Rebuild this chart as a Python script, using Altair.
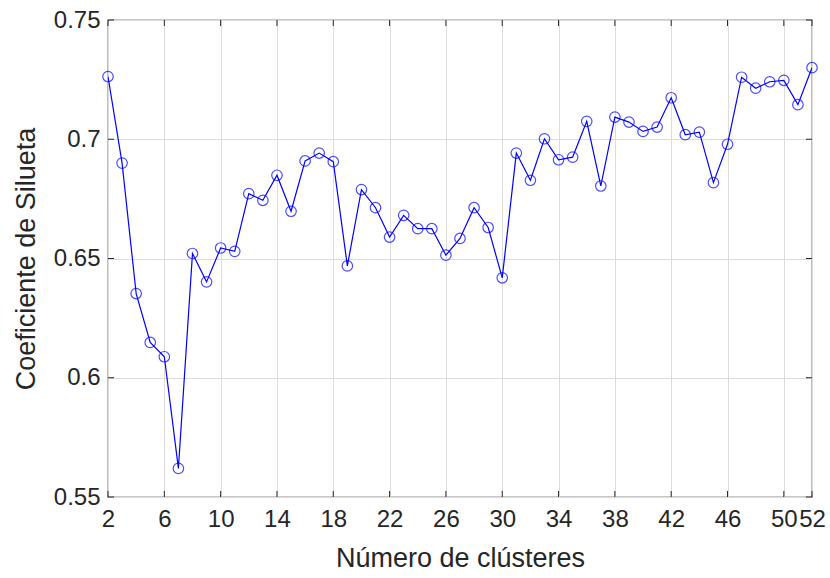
import altair as alt
import pandas as pd

clusters = list(range(2, 53))
silhouette = [
    0.7263, 0.6900, 0.6353, 0.6148, 0.6088, 0.5620, 0.6521, 0.6402, 0.6544, 0.6530,
    0.6772, 0.6744, 0.6849, 0.6698, 0.6909, 0.6942, 0.6906, 0.6469, 0.6789, 0.6713,
    0.6590, 0.6681, 0.6625, 0.6625, 0.6514, 0.6584, 0.6713, 0.6630, 0.6419, 0.6942,
    0.6828, 0.7002, 0.6914, 0.6925, 0.7075, 0.6804, 0.7093, 0.7072, 0.7033, 0.7051,
    0.7174, 0.7019, 0.7030, 0.6818, 0.6979, 0.7260, 0.7214, 0.7241, 0.7247, 0.7145,
    0.7300,
]
x_ticks = [2, 6, 10, 14, 18, 22, 26, 30, 34, 38, 42, 46, 50, 52]
y_ticks = [0.55, 0.6, 0.65, 0.7, 0.75]

df = pd.DataFrame({"k": clusters, "s": silhouette})
xt = pd.DataFrame({"t": x_ticks})
yt = pd.DataFrame({"t": y_ticks})

W, H = 704, 477
FONT = "Liberation Sans"

xscale = alt.Scale(domain=[2, 52], nice=False, zero=False)
yscale = alt.Scale(domain=[0.55, 0.75], nice=False, zero=False)

base = alt.Chart(df)

line = base.mark_line(color="#0000FF", strokeWidth=1.2, clip=True).encode(
    x=alt.X("k:Q", scale=xscale,
            axis=alt.Axis(values=x_ticks, title="Número de clústeres", format="d",
                          labelOverlap=False, labelFlush=False, labelBound=False,
                          grid=True, ticks=False, domain=False,
                          labelPadding=10, titlePadding=14)),
    y=alt.Y("s:Q", scale=yscale,
            axis=alt.Axis(values=y_ticks, title="Coeficiente de Silueta",
                          labelExpr="datum.value == 0.6 ? '0.6' : datum.value == 0.7 ? '0.7' : format(datum.value, '.2f')",
                          labelFlush=False, grid=True, ticks=False, domain=False,
                          labelPadding=8, titlePadding=13)),
)

points = base.mark_point(shape="circle", color="#0000FF", size=110, strokeWidth=1.2,
                         filled=False, clip=False).encode(x=alt.X("k:Q", scale=xscale),
                                                          y=alt.Y("s:Q", scale=yscale))

tick_len = 6
bot_ticks = alt.Chart(xt).mark_rule(color="#262626", strokeWidth=1).encode(
    x=alt.X("t:Q", scale=xscale), y=alt.value(H), y2=alt.value(H - tick_len))
top_ticks = alt.Chart(xt).mark_rule(color="#262626", strokeWidth=1).encode(
    x=alt.X("t:Q", scale=xscale), y=alt.value(0), y2=alt.value(tick_len))
left_ticks = alt.Chart(yt).mark_rule(color="#262626", strokeWidth=1).encode(
    y=alt.Y("t:Q", scale=yscale), x=alt.value(0), x2=alt.value(tick_len))
right_ticks = alt.Chart(yt).mark_rule(color="#262626", strokeWidth=1).encode(
    y=alt.Y("t:Q", scale=yscale), x=alt.value(W - tick_len), x2=alt.value(W))

chart = alt.layer(line, points, bot_ticks, top_ticks, left_ticks, right_ticks).properties(
    width=W, height=H,
    autosize=alt.AutoSizeParams(type="none"),
    padding={"left": 108, "top": 20, "right": 18, "bottom": 81},
    background="white",
).configure_view(
    stroke="#262626", strokeWidth=1.2
).configure_axis(
    labelFont=FONT, labelFontSize=24, labelColor="#262626",
    titleFont=FONT, titleFontSize=27, titleColor="#262626", titleFontWeight="normal",
    gridColor="#DCDCDC", gridWidth=1,
)

chart.save("out.html", embed_options={"renderer": "svg", "actions": False})
